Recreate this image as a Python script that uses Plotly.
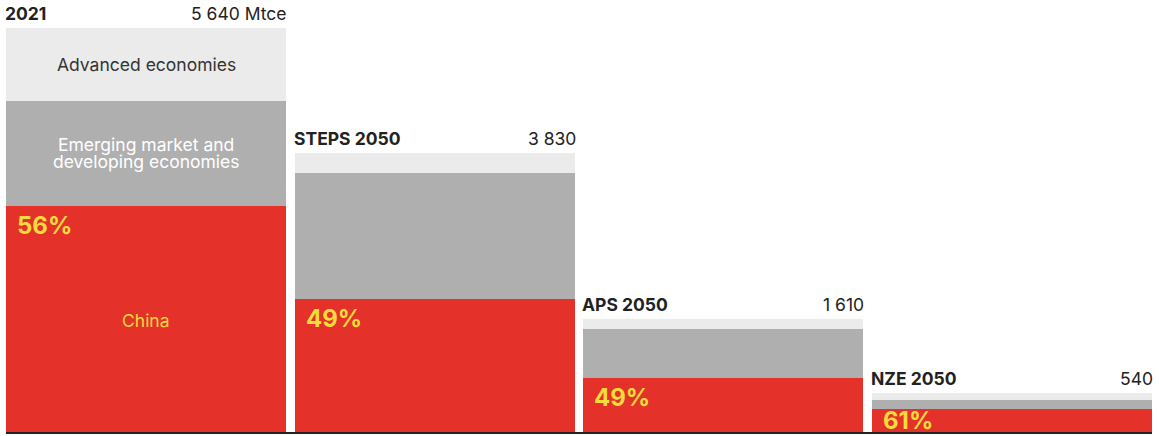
import plotly.graph_objects as go

scenarios = ["2021", "STEPS 2050", "APS 2050", "NZE 2050"]
total_labels = ["5 640 Mtce", "3 830", "1 610", "540"]
china = [3158, 1850, 749, 321]
emde = [1464, 1765, 692, 125]
advanced = [1018, 279, 135, 93]
china_share = ["56%", "49%", "49%", "61%"]

RED = "#e4322b"
GRAY = "#afafaf"
LIGHT = "#ebebeb"
YELLOW = "#f3dc3c"
FONT = "Inter"
FS = 17.5

x = list(range(len(scenarios)))
W = 0.97

fig = go.Figure()
for name, vals, col in [("China", china, RED),
                        ("Emerging market and developing economies", emde, GRAY),
                        ("Advanced economies", advanced, LIGHT)]:
    fig.add_trace(go.Bar(x=x, y=vals, name=name, marker=dict(color=col, line=dict(width=0)),
                         width=W, hoverinfo="skip"))

ann = []
for i in x:
    tot = china[i] + emde[i] + advanced[i]
    ann.append(dict(x=i - W / 2, y=tot, xref="x", yref="y", text="<b>%s</b>" % scenarios[i],
                    xanchor="left", yanchor="bottom", yshift=2, xshift=-3, showarrow=False,
                    font=dict(family=FONT, size=FS, color="#222222")))
    ann.append(dict(x=i + W / 2, y=tot, xref="x", yref="y", text=total_labels[i],
                    xanchor="right", yanchor="bottom", yshift=2, xshift=3, showarrow=False,
                    font=dict(family=FONT, size=FS, color="#222222")))
    shift = -3 if i < 3 else 5
    ann.append(dict(x=i - W / 2, y=china[i], xref="x", yref="y", text="<b>%s</b>" % china_share[i],
                    xanchor="left", yanchor="top", xshift=9, yshift=shift, showarrow=False,
                    font=dict(family=FONT, size=24, color=YELLOW)))

# segment names in the first bar
ann.append(dict(x=0, y=china[0] + emde[0] + advanced[0] / 2, xref="x", yref="y",
                text="Advanced economies", showarrow=False,
                font=dict(family=FONT, size=FS, color="#333333")))
ann.append(dict(x=0, y=china[0] + emde[0] / 2, xref="x", yref="y", yshift=9,
                text="Emerging market and", showarrow=False,
                font=dict(family=FONT, size=FS, color="white")))
ann.append(dict(x=0, y=china[0] + emde[0] / 2, xref="x", yref="y", yshift=-8,
                text="developing economies", showarrow=False,
                font=dict(family=FONT, size=FS, color="white")))
ann.append(dict(x=0, y=china[0] / 2, xref="x", yref="y", yshift=-2,
                text="China", showarrow=False,
                font=dict(family=FONT, size=FS, color=YELLOW)))

top = (china[0] + emde[0] + advanced[0]) * 432 / 404

fig.update_layout(
    width=1159, height=436,
    margin=dict(l=6, r=7, t=0, b=4),
    barmode="stack", bargap=0,
    plot_bgcolor="white", paper_bgcolor="white",
    showlegend=False,
    annotations=ann,
    xaxis=dict(range=[-W / 2, 3 + W / 2], showticklabels=False, showgrid=False, zeroline=False,
               showline=True, linecolor="#222222", linewidth=1.5, ticks=""),
    yaxis=dict(range=[0, top], showticklabels=False, showgrid=False, zeroline=False, showline=False),
)

fig.write_html("out.html", config={"displayModeBar": False},
               post_script="document.body.style.margin='0';document.body.style.overflow='hidden';")
